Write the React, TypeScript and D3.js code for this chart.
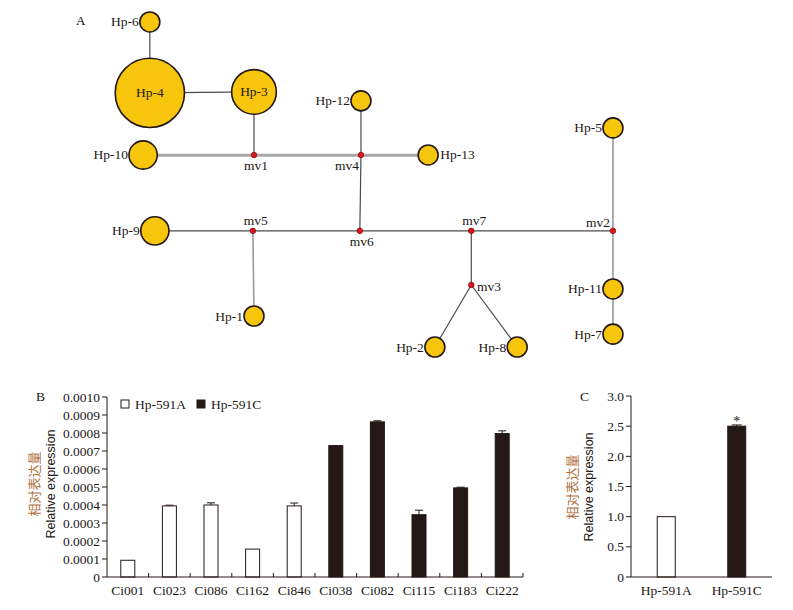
import React from 'react';
import * as d3 from 'd3';

// ---- Panel A: haplotype network ----
// node layout in network units (x 0..100, y 0..100), frequency for haplotypes
const nodeIds = ['Hp-6', 'Hp-4', 'Hp-3', 'Hp-12', 'Hp-10', 'mv1', 'mv4', 'Hp-13', 'Hp-5', 'Hp-9', 'mv5', 'mv6', 'mv7', 'mv2', 'mv3', 'Hp-11', 'Hp-1', 'Hp-7', 'Hp-2', 'Hp-8'];
const nodeX = [8.9, 8.9, 27.5, 46.6, 7.7, 27.5, 46.6, 58.6, 91.6, 9.8, 27.3, 46.4, 66.3, 91.6, 66.3, 91.6, 27.5, 91.6, 59.8, 74.5];
const nodeY = [0.6, 22.1, 21.8, 24.5, 40.9, 40.9, 40.9, 40.9, 32.7, 63.9, 63.9, 63.9, 63.9, 63.9, 80.3, 81.5, 89.7, 95.2, 99.1, 99.1];
const nodeFreq = [1, 12, 5, 1, 2, 0, 0, 1, 1, 2, 0, 0, 0, 0, 0, 1, 1, 1, 1, 1];
const nodeLabelPos = ['left', 'inside', 'inside', 'left', 'left', 'below', 'belowLeft', 'right', 'left', 'left', 'above', 'below', 'above', 'aboveLeft', 'right', 'left', 'left', 'left', 'left', 'left'];

const edgeFrom = ['Hp-6', 'Hp-4', 'Hp-3', 'Hp-10', 'mv1', 'mv4', 'Hp-12', 'mv4', 'Hp-9', 'mv5', 'mv6', 'mv7', 'mv5', 'mv7', 'mv3', 'mv3', 'Hp-5', 'mv2', 'Hp-11'];
const edgeTo = ['Hp-4', 'Hp-3', 'mv1', 'mv1', 'mv4', 'Hp-13', 'mv4', 'mv6', 'mv5', 'mv6', 'mv7', 'mv2', 'Hp-1', 'mv3', 'Hp-2', 'Hp-8', 'mv2', 'Hp-11', 'Hp-7'];
const edgeKind = ['dark', 'dark', 'dark', 'thick', 'thick', 'thick', 'dark', 'dark', 'dark', 'dark', 'dark', 'dark', 'gray', 'dark', 'dark', 'dark', 'gray', 'gray', 'gray'];

// ---- Panel B ----
const genes = ['Ci001', 'Ci023', 'Ci086', 'Ci162', 'Ci846', 'Ci038', 'Ci082', 'Ci115', 'Ci183', 'Ci222'];
const geneGroup = ['A', 'A', 'A', 'A', 'A', 'C', 'C', 'C', 'C', 'C'];
const geneValue = [0.000093, 0.000395, 0.0004, 0.000155, 0.000395, 0.00073, 0.000862, 0.000346, 0.000495, 0.000797];
const geneError = [0, 0.000004, 0.000012, 0, 0.000016, 0, 0.000006, 0.000025, 0.000004, 0.000015];
const bTicks = [0, 0.0001, 0.0002, 0.0003, 0.0004, 0.0005, 0.0006, 0.0007, 0.0008, 0.0009, 0.001];
const bTickLabels = ['0', '0.0001', '0.0002', '0.0003', '0.0004', '0.0005', '0.0006', '0.0007', '0.0008', '0.0009', '0.0010'];
const legendNames = ['Hp-591A', 'Hp-591C'];

// ---- Panel C ----
const lines = ['Hp-591A', 'Hp-591C'];
const lineValue = [1.0, 2.5];
const lineError = [0, 0.02];
const lineSig = ['', '*'];
const cTicks = [0, 0.5, 1.0, 1.5, 2.0, 2.5, 3.0];

const serif = '"Liberation Serif", "Times New Roman", serif';
const sans = '"Liberation Sans", Arial, sans-serif';
const cjk = '"Noto Sans CJK SC", sans-serif';
const gold = '#f6c50c';
const dark = '#231815';
const cnColor = '#b0723f';

function Network() {
  const x = d3.scaleLinear().domain([0, 100]).range([100, 660]);
  const y = d3.scaleLinear().domain([0, 100]).range([20, 350]);
  const r = d3.scaleSqrt().domain([0, 1]).range([0, 10]);
  const idx = new Map(nodeIds.map((id, i) => [id, i]));
  const pos = (id: string) => {
    const i = idx.get(id)!;
    return [x(nodeX[i]), y(nodeY[i])];
  };
  const edgeStyle: Record<string, { stroke: string; w: number }> = {
    dark: { stroke: '#4a4a4a', w: 1.2 },
    gray: { stroke: '#9a9a9a', w: 1.6 },
    thick: { stroke: '#a8a8a8', w: 2.6 },
  };
  return (
    <g>
      <text x={76} y={25} style={{ fontFamily: serif }} fontSize={13}>A</text>
      {edgeFrom.map((f, i) => {
        const [x1, y1] = pos(f);
        const [x2, y2] = pos(edgeTo[i]);
        const s = edgeStyle[edgeKind[i]];
        return (
          <g key={'e' + i}>
            {edgeKind[i] === 'thick' && (
              <line x1={x1} y1={y1 + 1} x2={x2} y2={y2 + 1} stroke="#555" strokeWidth={0.8} />
            )}
            <line x1={x1} y1={y1} x2={x2} y2={y2} stroke={s.stroke} strokeWidth={s.w} />
          </g>
        );
      })}
      {nodeIds.map((id, i) => {
        const cx = x(nodeX[i]);
        const cy = y(nodeY[i]);
        const isMv = nodeFreq[i] === 0;
        const rad = isMv ? 2.8 : r(nodeFreq[i]);
        const p = nodeLabelPos[i];
        let tx = cx, ty = cy + 4.5, anchor = 'middle';
        if (p === 'left') { tx = cx - rad - 1; anchor = 'end'; }
        if (p === 'right') { tx = cx + rad + (isMv ? 3 : 2); anchor = 'start'; if (isMv) ty = cy + 6; }
        if (p === 'below') { tx = cx + 2; ty = cy + 15; }
        if (p === 'belowLeft') { tx = cx - 14; ty = cy + 15; }
        if (p === 'above') { tx = cx + 3; ty = cy - 6; }
        if (p === 'aboveLeft') { tx = cx - 3; ty = cy - 4; anchor = 'end'; }
        return (
          <g key={id}>
            {isMv ? (
              <circle cx={cx} cy={cy} r={rad} fill="#e0141e" stroke="#6a0000" strokeWidth={0.6} />
            ) : (
              <circle cx={cx} cy={cy} r={rad} fill={gold} stroke={dark} strokeWidth={1.6} />
            )}
            <text x={tx} y={ty} textAnchor={anchor} style={{ fontFamily: serif }} fontSize={13.5} fill={dark}>{id}</text>
          </g>
        );
      })}
    </g>
  );
}

function YTitle({ cx, cy }: { cx: number; cy: number }) {
  return (
    <g>
      <text transform={`translate(${cx - 9},${cy}) rotate(-90)`} textAnchor="middle" style={{ fontFamily: cjk }} fontSize={13} fill={cnColor}>相对表达量</text>
      <text transform={`translate(${cx + 7},${cy}) rotate(-90)`} textAnchor="middle" style={{ fontFamily: sans }} fontSize={12.5} fill={dark}>Relative expression</text>
    </g>
  );
}

function PanelB() {
  const x = d3.scaleBand().domain(genes).range([107, 523]);
  const y = d3.scaleLinear().domain([0, 0.001]).range([577, 397]);
  const bw = 14;
  return (
    <g style={{ fontFamily: serif }} fontSize={13.5} fill={dark}>
      <text x={36} y={401}>B</text>
      <YTitle cx={48} cy={484} />
      {genes.map((g, i) => {
        const cx = x(g)! + x.bandwidth() / 2;
        const top = y(geneValue[i]);
        const isA = geneGroup[i] === 'A';
        return (
          <g key={g}>
            {geneError[i] > 0 && (
              <g stroke={dark} strokeWidth={1}>
                <line x1={cx} x2={cx} y1={top} y2={y(geneValue[i] + geneError[i])} />
                <line x1={cx - 4} x2={cx + 4} y1={y(geneValue[i] + geneError[i])} y2={y(geneValue[i] + geneError[i])} />
              </g>
            )}
            <rect x={cx - bw / 2} y={top} width={bw} height={y(0) - top} fill={isA ? '#fff' : dark} stroke={dark} strokeWidth={1} />
            <text x={cx} y={595} textAnchor="middle">{g}</text>
          </g>
        );
      })}
      <g stroke={dark} strokeWidth={1}>
        <line x1={107} x2={107} y1={y(0)} y2={y(0.001)} />
        <line x1={107} x2={523} y1={y(0)} y2={y(0)} />
        {bTicks.map(t => <line key={t} x1={102} x2={107} y1={y(t)} y2={y(t)} />)}
        {genes.map(g => <line key={g} x1={x(g)! + x.bandwidth()} x2={x(g)! + x.bandwidth()} y1={y(0)} y2={y(0) - 4} />)}
      </g>
      {bTicks.map((t, i) => (
        <text key={t} x={100} y={y(t) + 4.5} textAnchor="end">{bTickLabels[i]}</text>
      ))}
      {legendNames.map((n, i) => (
        <g key={n} transform={`translate(${121 + i * 76},400)`}>
          <rect x={0} y={0} width={8} height={8} fill={i === 0 ? '#fff' : dark} stroke={dark} strokeWidth={1} />
          <text x={14} y={9}>{n}</text>
        </g>
      ))}
    </g>
  );
}

function PanelC() {
  const x = d3.scaleBand().domain(lines).range([631, 772]);
  const y = d3.scaleLinear().domain([0, 3]).range([577, 396]);
  const bw = 18;
  return (
    <g style={{ fontFamily: serif }} fontSize={13.5} fill={dark}>
      <text x={580} y={401}>C</text>
      <YTitle cx={586} cy={487} />
      {lines.map((l, i) => {
        const cx = x(l)! + x.bandwidth() / 2;
        const top = y(lineValue[i]);
        const errTop = y(lineValue[i] + lineError[i]);
        return (
          <g key={l}>
            {lineError[i] > 0 && (
              <g stroke={dark} strokeWidth={1}>
                <line x1={cx} x2={cx} y1={top} y2={errTop} />
                <line x1={cx - 5} x2={cx + 5} y1={errTop} y2={errTop} />
              </g>
            )}
            <rect x={cx - bw / 2} y={top} width={bw} height={y(0) - top} fill={i === 0 ? '#fff' : dark} stroke={dark} strokeWidth={1} />
            {lineSig[i] && <text x={cx} y={errTop + 1} textAnchor="middle" fontSize={14}>{lineSig[i]}</text>}
            <text x={cx} y={595} textAnchor="middle">{l}</text>
          </g>
        );
      })}
      <g stroke={dark} strokeWidth={1}>
        <line x1={631} x2={631} y1={y(0)} y2={y(3)} />
        <line x1={631} x2={772} y1={y(0)} y2={y(0)} />
        {cTicks.map(t => <line key={t} x1={626} x2={631} y1={y(t)} y2={y(t)} />)}
      </g>
      {cTicks.map(t => (
        <text key={t} x={624} y={y(t) + 4.5} textAnchor="end">{t === 0 ? '0' : d3.format('.1f')(t)}</text>
      ))}
    </g>
  );
}

export default function App() {
  return (
    <svg width={793} height={610} style={{ position: 'absolute', left: 0, top: 0, background: '#fff' }}>
      <Network />
      <PanelB />
      <PanelC />
    </svg>
  );
}
